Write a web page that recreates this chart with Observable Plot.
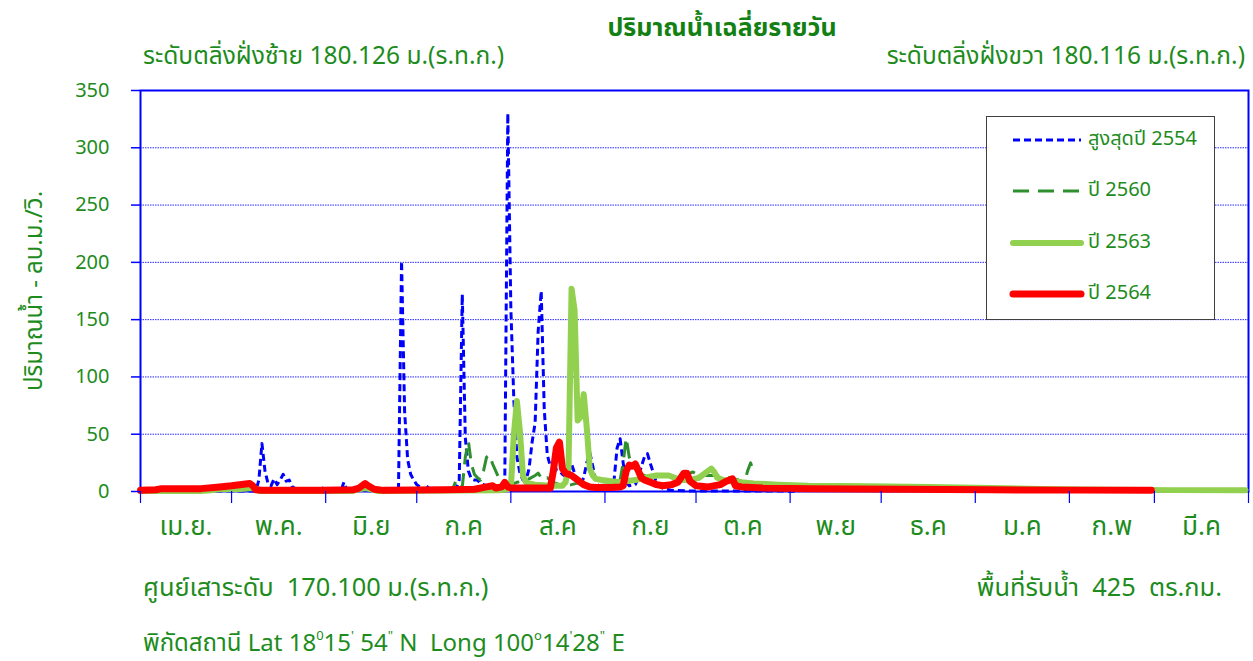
<!DOCTYPE html>
<html>
<head>
<meta charset="utf-8">
<script src="https://cdn.jsdelivr.net/npm/d3@7"></script>
<script src="https://cdn.jsdelivr.net/npm/@observablehq/plot@0.6"></script>
<style>
  html, body { margin: 0; padding: 0; background: #fff; }
  body { width: 1253px; height: 661px; position: relative; overflow: hidden;
         font-family: Tahoma, "Noto Sans Thai", "Leelawadee UI", "Noto Sans", sans-serif; color: #1d8c1d; }
  .t { position: absolute; white-space: pre; line-height: 1; }
  #chart { position: absolute; left: 0; top: 80px; }
  #legend { position: absolute; left: 986px; top: 116px; width: 229px; height: 204px;
            border: 1px solid #404040; background: #fff; box-sizing: border-box; }
  .li { position: absolute; left: 0; height: 30px; width: 229px; }
  .li svg { position: absolute; left: 20px; top: 0; }
  .li span { position: absolute; left: 101px; top: 4px; font-size: 20px; line-height: 1; white-space: pre; }
  sup { font-size: 13px; vertical-align: 11px; }
</style>
</head>
<body>
<div class="t" id="title" style="left:722px; top:16px; transform:translateX(-50%); font-size:25px; font-weight:bold; color:#128012;"></div>
<div class="t" id="subL" style="left:143px; top:45px; font-size:24.5px;"></div>
<div class="t" id="subR" style="right:8px; top:45px; font-size:24.5px;"></div>
<div id="chart"></div>
<div id="legend"></div>
<div class="t" id="footL" style="left:143px; top:576px; font-size:25.4px;"></div>
<div class="t" id="footR" style="right:31px; top:576px; font-size:25.4px;"></div>
<div class="t" id="coord" style="left:143px; top:630px; font-size:24px;"></div>
<script>
// ---- texts ----
const titleText = "ปริมาณน้ำเฉลี่ยรายวัน";
const leftBankText = "ระดับตลิ่งฝั่งซ้าย 180.126 ม.(ร.ท.ก.)";
const rightBankText = "ระดับตลิ่งฝั่งขวา 180.116 ม.(ร.ท.ก.)";
const gaugeZeroText = "ศูนย์เสาระดับ  170.100 ม.(ร.ท.ก.)";
const catchmentText = "พื้นที่รับน้ำ  425  ตร.กม.";
const yTitle = "ปริมาณน้ำ - ลบ.ม./วิ.";

// ---- axes ----
const months = ["เม.ย.", "พ.ค.", "มิ.ย", "ก.ค", "ส.ค", "ก.ย", "ต.ค", "พ.ย", "ธ.ค", "ม.ค", "ก.พ", "มี.ค"];
const monthDays = [30, 31, 30, 31, 31, 30, 31, 30, 31, 31, 28, 31];
const yTicks = [0, 50, 100, 150, 200, 250, 300, 350];
const gridValues = [50, 100, 150, 200, 250, 300];
const seriesNames = ["สูงสุดปี 2554", "ปี 2560", "ปี 2563", "ปี 2564"];

// ---- series: [day since 1 April, flow m3/s] ----
const q2554 = [[0,0],[20,0],[22,1],[23,3],[24,0.5],[38,0.5],[39,10],[40,42],[41,18],[42,7],[43,5],[44,11],[45,6],[46,10],[47,15],[48,9],[49,10],[50,4],[52,1],[59,0.5],[60,3],[61,0.5],[66,0.5],[67,8],[68,1],[84,0.5],[85,4],[86,201],[87,70],[88,28],[89,15],[90,10],[91,6],[92,4],[94,2],[95,5],[96,2],[100,1],[104,3],[105,10],[106,172],[107,47],[108,18],[109,11],[110,10],[111,10],[112,7],[113,6],[114,5],[115,4],[117,3],[119,3],[120,8],[121,330],[122,160],[123,79],[124,30],[125,16],[126,10],[127,10],[128,20],[129,43],[130,60],[131,140],[132,175],[133,72],[134,32],[135,22],[136,20],[137,19],[138,18],[139,15],[140,13],[141,16],[142,24],[143,16],[144,8],[145,6],[146,12],[147,25],[148,34],[149,22],[150,9],[151,4],[152,2],[155,3],[156,10],[157,38],[158,46],[159,25],[160,8],[161,5],[163,6],[164,12],[165,22],[166,30],[167,33],[168,24],[169,16],[170,7],[172,3],[175,1],[180,0.5],[217,0.3]];
const q2560 = [[100,1],[103,3],[104,10],[105,6],[106,4],[107,30],[108,44],[109,24],[110,15],[111,12],[112,10],[113,18],[114,30],[115,32],[116,24],[117,18],[118,12],[119,10],[120,8],[122,6],[124,8],[126,9],[128,11],[130,14],[131,16],[132,12],[133,10],[134,12],[136,8],[138,6],[140,5],[142,6],[145,8],[150,5],[155,6],[157,8],[158,10],[159,25],[160,47],[161,30],[162,24],[163,20],[164,16],[166,14],[170,14],[175,13],[180,15],[182,17],[184,14],[188,14],[191,14],[194,12],[197,10],[199,8],[200,18],[201,25],[202,16]];
const q2563 = [[0,0.5],[20,0.5],[23,1],[26,2],[32,2],[37,3],[38,2.5],[39,0.5],[70,0.5],[72,2],[74,3],[76,2],[78,0.5],[118,1],[121,2],[122,3],[123,50],[124,79],[125,52],[126,14],[127,8],[128,7],[130,6],[135,5],[139,5],[140,8],[141,20],[142,177],[143,158],[144,62],[145,65],[146,85],[147,56],[148,20],[149,14],[150,11],[152,10],[155,9],[158,8],[160,9],[163,10],[166,12],[170,14],[174,14],[176,12],[178,10],[181,10],[184,12],[186,16],[188,20],[189,17],[190,12],[192,10],[195,9],[198,8],[202,7],[210,6],[220,5],[240,4.5],[260,4],[280,3],[300,2],[320,1.5],[340,1.2],[364,1]];
const q2564 = [[0,1],[5,1.5],[7,2.5],[20,2.5],[26,4],[30,5],[36,7],[37,5],[38,1.5],[40,1],[60,1],[70,1.5],[72,3],[74,7],[75,5],[77,2],[80,1],[100,1.5],[110,2],[114,4],[116,5],[117,3],[119,4],[120,8],[121,4],[122,3],[135,3],[136,18],[137,38],[138,43],[139,20],[140,16],[141,15],[142,14],[143,12],[144,10],[145,8],[146,6],[148,4],[150,3.5],[155,3.5],[158,4],[159,5],[160,18],[161,23],[162,22],[163,24],[164,18],[165,12],[166,10],[168,8],[170,6],[172,5],[175,6],[177,8],[178,12],[179,16],[180,16],[181,9],[183,5],[187,4],[191,6],[193,9],[195,11],[196,5],[198,4],[205,3],[220,2.5],[250,2],[280,1.5],[310,1.2],[333,1]];

// ---- styles ----
const green = "#1d8c1d";
const styles = [
  {stroke: "#0000ff", strokeWidth: 3, strokeDasharray: "7,4", linecap: "butt"},
  {stroke: "#2e8f2e", strokeWidth: 3, strokeDasharray: "16,9", linecap: "butt"},
  {stroke: "#92d050", strokeWidth: 6, strokeDasharray: null, linecap: "round"},
  {stroke: "#ff0000", strokeWidth: 7, strokeDasharray: null, linecap: "round"}
];
const seriesData = [q2554, q2560, q2563, q2564];

// month boundaries & centers
const bounds = [0, ...d3.cumsum(monthDays)];
const centers = months.map((m, i) => (bounds[i] + bounds[i + 1]) / 2);

// header / footer text
document.getElementById("title").textContent = titleText;
document.getElementById("subL").textContent = leftBankText;
document.getElementById("subR").textContent = rightBankText;
document.getElementById("footL").textContent = gaugeZeroText;
document.getElementById("footR").textContent = catchmentText;
document.getElementById("coord").innerHTML = "พิกัดสถานี Lat 18<sup>0</sup>15<sup>'</sup> 54<sup>\"</sup> N  Long 100<sup>o</sup>14<sup>'</sup>28<sup>\"</sup> E";

const lineMarks = seriesData.map((data, i) => Plot.line(data, {
  x: d => d[0], y: d => d[1],
  stroke: styles[i].stroke, strokeWidth: styles[i].strokeWidth,
  strokeDasharray: styles[i].strokeDasharray || undefined,
  strokeLinejoin: "round", strokeLinecap: styles[i].linecap
}));

const chart = Plot.plot({
  width: 1253, height: 470,
  marginLeft: 140, marginRight: 5, marginTop: 10, marginBottom: 59,
  style: {fontFamily: 'Tahoma, "Noto Sans Thai", "Leelawadee UI", "Noto Sans", sans-serif', fontSize: "20px", background: "transparent", overflow: "visible"},
  x: {domain: [0, 365]},
  y: {domain: [0, 350]},
  marks: [
    Plot.ruleY(gridValues, {stroke: "#0000ff", strokeWidth: 1, strokeDasharray: "1.5,1", strokeOpacity: 0.85}),
    Plot.frame({stroke: "#0000ff", strokeWidth: 2}),
    ...lineMarks,
    Plot.axisY({ticks: yTicks, tickSize: 9, tickFormat: () => "", stroke: "#0000ff", strokeWidth: 1.5}),
    Plot.axisY({ticks: yTicks, tickSize: 0, tickPadding: 31, fill: green, fontSize: 20, label: null}),
    Plot.axisX({ticks: bounds, tickSize: 12, tickFormat: () => "", stroke: "#0000ff", strokeWidth: 1.2, label: null}),
    Plot.axisX({ticks: centers, tickSize: 0, tickPadding: 25, tickFormat: d => months[centers.indexOf(d)], fill: green, fontSize: 26, label: null}),
    Plot.text([yTitle], {frameAnchor: "left", dx: -106, rotate: -90, text: d => d, fill: green, fontSize: 24, textAnchor: "middle"})
  ]
});
document.getElementById("chart").appendChild(chart);

// legend
const legend = document.getElementById("legend");
const rowY = [23, 74, 126, 177];
seriesNames.forEach((name, i) => {
  const row = document.createElement("div");
  row.className = "li";
  row.style.top = (rowY[i] - 15) + "px";
  const s = styles[i];
  row.innerHTML = `<svg width="78" height="30"><line x1="6" x2="74" y1="15" y2="15" stroke="${s.stroke}" stroke-width="${s.strokeWidth}" ${s.strokeDasharray ? `stroke-dasharray="${s.strokeDasharray}"` : ""} stroke-linecap="${s.linecap}"/></svg><span></span>`;
  row.querySelector("span").textContent = name;
  legend.appendChild(row);
});
</script>
</body>
</html>
